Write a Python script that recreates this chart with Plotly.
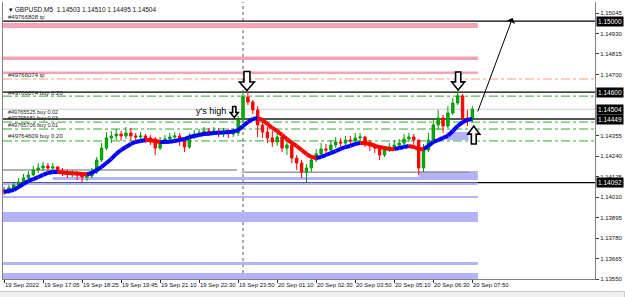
import plotly.graph_objects as go

# ---------------- data ----------------
bar_idx = [2 * j for j in range(97)]  # position in 5-minute bars from 19 Sep 15:45

opens = [1.14050, 1.14039, 1.14062, 1.14078, 1.14095, 1.14118, 1.14135, 1.14163, 1.14174, 1.14185,
         1.14174, 1.14180, 1.14157, 1.14151, 1.14140, 1.14146, 1.14135, 1.14123, 1.14129, 1.14151,
         1.14219, 1.14286, 1.14343, 1.14354, 1.14365, 1.14354, 1.14371, 1.14354, 1.14348, 1.14354,
         1.14343, 1.14337, 1.14286, 1.14320, 1.14337, 1.14348, 1.14354, 1.14331, 1.14292, 1.14348,
         1.14365, 1.14371, 1.14382, 1.14376, 1.14382, 1.14371, 1.14376, 1.14365, 1.14371, 1.14444,
         1.14573, 1.14545, 1.14500, 1.14416, 1.14376, 1.14343, 1.14320, 1.14348, 1.14286, 1.14303,
         1.14230, 1.14202, 1.14151, 1.14174, 1.14219, 1.14253, 1.14281, 1.14275, 1.14303, 1.14320,
         1.14314, 1.14331, 1.14326, 1.14343, 1.14348, 1.14320, 1.14298, 1.14286, 1.14247, 1.14275,
         1.14292, 1.14303, 1.14314, 1.14337, 1.14348, 1.14331, 1.14174, 1.14275, 1.14331, 1.14416,
         1.14455, 1.14410, 1.14483, 1.14539, 1.14579, 1.14455, 1.14449]
highs = [1.14067, 1.14078, 1.14095, 1.14118, 1.14140, 1.14157, 1.14185, 1.14202, 1.14208, 1.14202,
         1.14202, 1.14185, 1.14174, 1.14163, 1.14163, 1.14157, 1.14146, 1.14151, 1.14174, 1.14236,
         1.14314, 1.14376, 1.14382, 1.14393, 1.14382, 1.14404, 1.14399, 1.14371, 1.14376, 1.14365,
         1.14359, 1.14348, 1.14348, 1.14359, 1.14371, 1.14376, 1.14371, 1.14343, 1.14371, 1.14387,
         1.14393, 1.14404, 1.14399, 1.14404, 1.14399, 1.14399, 1.14393, 1.14399, 1.14466, 1.14601,
         1.14601, 1.14556, 1.14522, 1.14432, 1.14404, 1.14382, 1.14376, 1.14359, 1.14331, 1.14314,
         1.14247, 1.14219, 1.14196, 1.14241, 1.14281, 1.14314, 1.14309, 1.14331, 1.14348, 1.14343,
         1.14354, 1.14354, 1.14371, 1.14371, 1.14354, 1.14331, 1.14314, 1.14298, 1.14298, 1.14314,
         1.14331, 1.14337, 1.14365, 1.14371, 1.14365, 1.14331, 1.14309, 1.14371, 1.14455, 1.14500,
         1.14472, 1.14522, 1.14567, 1.14607, 1.14590, 1.14500, 1.14522]
lows = [1.14022, 1.14028, 1.14050, 1.14067, 1.14084, 1.14107, 1.14129, 1.14146, 1.14157, 1.14151,
        1.14151, 1.14140, 1.14129, 1.14118, 1.14123, 1.14107, 1.14095, 1.14101, 1.14118, 1.14140,
        1.14208, 1.14275, 1.14314, 1.14331, 1.14326, 1.14337, 1.14326, 1.14320, 1.14326, 1.14314,
        1.14303, 1.14247, 1.14275, 1.14309, 1.14314, 1.14326, 1.14298, 1.14264, 1.14281, 1.14337,
        1.14348, 1.14359, 1.14354, 1.14359, 1.14348, 1.14348, 1.14343, 1.14348, 1.14354, 1.14444,
        1.14528, 1.14477, 1.14348, 1.14343, 1.14314, 1.14292, 1.14298, 1.14264, 1.14247, 1.14202,
        1.14163, 1.14118, 1.14095, 1.14151, 1.14208, 1.14241, 1.14247, 1.14264, 1.14286, 1.14286,
        1.14298, 1.14298, 1.14309, 1.14320, 1.14292, 1.14269, 1.14258, 1.14219, 1.14236, 1.14264,
        1.14275, 1.14286, 1.14303, 1.14320, 1.14286, 1.14135, 1.14151, 1.14264, 1.14320, 1.14387,
        1.14371, 1.14399, 1.14472, 1.14528, 1.14416, 1.14410, 1.14432]
closes = [1.14039, 1.14062, 1.14078, 1.14095, 1.14118, 1.14135, 1.14163, 1.14174, 1.14185, 1.14174,
          1.14180, 1.14157, 1.14151, 1.14140, 1.14146, 1.14135, 1.14123, 1.14129, 1.14151, 1.14219,
          1.14286, 1.14343, 1.14354, 1.14365, 1.14354, 1.14371, 1.14354, 1.14348, 1.14354, 1.14343,
          1.14337, 1.14286, 1.14320, 1.14337, 1.14348, 1.14354, 1.14331, 1.14292, 1.14348, 1.14365,
          1.14371, 1.14382, 1.14376, 1.14382, 1.14371, 1.14376, 1.14365, 1.14371, 1.14444, 1.14573,
          1.14545, 1.14500, 1.14416, 1.14376, 1.14343, 1.14320, 1.14348, 1.14286, 1.14303, 1.14230,
          1.14202, 1.14151, 1.14174, 1.14219, 1.14253, 1.14281, 1.14275, 1.14303, 1.14320, 1.14314,
          1.14331, 1.14326, 1.14343, 1.14348, 1.14320, 1.14298, 1.14286, 1.14247, 1.14275, 1.14292,
          1.14303, 1.14314, 1.14337, 1.14348, 1.14331, 1.14174, 1.14275, 1.14331, 1.14416, 1.14455,
          1.14410, 1.14483, 1.14539, 1.14579, 1.14455, 1.14449, 1.14504]
ma = [1.14039, 1.14045, 1.14050, 1.14067, 1.14084, 1.14101, 1.14112, 1.14123, 1.14135, 1.14146,
      1.14151, 1.14151, 1.14148, 1.14146, 1.14144, 1.14143, 1.14140, 1.14139, 1.14146, 1.14163,
      1.14180, 1.14202, 1.14225, 1.14253, 1.14275, 1.14292, 1.14309, 1.14320, 1.14326, 1.14331,
      1.14330, 1.14326, 1.14320, 1.14320, 1.14322, 1.14326, 1.14331, 1.14337, 1.14348, 1.14354,
      1.14359, 1.14365, 1.14366, 1.14371, 1.14372, 1.14373, 1.14376, 1.14378, 1.14387, 1.14410,
      1.14432, 1.14449, 1.14455, 1.14444, 1.14421, 1.14399, 1.14382, 1.14359, 1.14337, 1.14314,
      1.14298, 1.14275, 1.14253, 1.14236, 1.14230, 1.14236, 1.14247, 1.14258, 1.14269, 1.14281,
      1.14292, 1.14298, 1.14309, 1.14314, 1.14313, 1.14309, 1.14298, 1.14292, 1.14286, 1.14281,
      1.14280, 1.14286, 1.14292, 1.14298, 1.14292, 1.14281, 1.14280, 1.14298, 1.14320, 1.14331,
      1.14343, 1.14354, 1.14382, 1.14410, 1.14432, 1.14444, 1.14449]

x_tick_idx = [0, 16, 32, 48, 64, 80, 96, 112, 128, 144, 160, 176, 192]
x_tick_labels = ["19 Sep 2022", "19 Sep 17:05", "19 Sep 18:25", "19 Sep 19:45", "19 Sep 21:10",
                 "19 Sep 22:30", "19 Sep 23:50", "20 Sep 01:10", "20 Sep 02:30", "20 Sep 03:50",
                 "20 Sep 05:10", "20 Sep 06:30", "20 Sep 07:50"]
y_ticks = [1.15045, 1.14930, 1.14815, 1.14700, 1.14355, 1.14240, 1.14125, 1.14010,
           1.13895, 1.13780, 1.13665, 1.13550]
boxed_prices = [1.15000, 1.14600, 1.14504, 1.14449, 1.14092]

pink_bands = [(1.14961, 1.14989), (1.14781, 1.14800), (1.14702, 1.14716)]
blue_bands = [(1.14078, 1.14093, -1), (1.14005, 1.14017, -1), (1.13870, 1.13927, -1),
              (1.13629, 1.13646, -1), (1.13550, 1.13584, -1), (1.14107, 1.14123, 20),
              (1.14123, 1.14157, 170)]
blue_box = (1.14331, 1.14376, 181.5, 190.5)
band_end = 194.3
black_lines = [1.15000, 1.14600, 1.14092]
tp_line = 1.14674
green_lines = [1.14578, 1.14432, 1.14393, 1.14326]
bid_line = 1.14504
dark_line = 1.14449
gray_segments = [(1.14163, -1, 95.5), (1.14150, 97.5, 191)]
day_sep = 98

# order labels: (text, price of label centre, font size)
order_labels = [("#49766808 tp", 1.15023, 6), ("#49766074 tp", 1.14697, 6),
                ("#49766074 buy 0.20", 1.14595, 6), ("#49765525 buy 0.02", 1.14491, 5.5),
                ("#49765681 buy 0.03", 1.14457, 5.5), ("#49765706 buy 0.01", 1.14416, 5.5),
                ("#49764609 buy 0.20", 1.14354, 6)]
title_text = "\u25be GBPUSD,M5  1.14503 1.14510 1.14495 1.14504"

# hollow marker arrows: (bar index, price, width px, height px, direction)
marker_arrows = [(99.6, 1.14663, 15, 19, "down"), (186.2, 1.14663, 13, 18, "down"),
                 (94.4, 1.14489, 8, 11, "down"), (192.6, 1.14359, 12, 18, "up")]

# ---------------- figure ----------------
fig = go.Figure()

fig.add_trace(go.Candlestick(
    x=bar_idx, open=opens, high=highs, low=lows, close=closes,
    increasing=dict(line=dict(color="#009a00", width=1), fillcolor="#00b000"),
    decreasing=dict(line=dict(color="#ff0000", width=1), fillcolor="#ff0000"),
    whiskerwidth=0, showlegend=False, hoverinfo="skip"))

bx, by, rx, ry = [], [], [], []
for i in range(len(ma) - 1):
    if ma[i + 1] >= ma[i]:
        bx += [bar_idx[i], bar_idx[i + 1], None]; by += [ma[i], ma[i + 1], None]
    else:
        rx += [bar_idx[i], bar_idx[i + 1], None]; ry += [ma[i], ma[i + 1], None]
fig.add_trace(go.Scatter(x=bx, y=by, mode="lines", line=dict(color="#0000ff", width=4),
                         showlegend=False, hoverinfo="skip"))
fig.add_trace(go.Scatter(x=rx, y=ry, mode="lines", line=dict(color="#ff0000", width=4),
                         showlegend=False, hoverinfo="skip"))

shapes = []
for lo, hi in pink_bands:
    shapes.append(dict(type="rect", xref="x", yref="y", x0=-1, x1=band_end, y0=lo, y1=hi,
                       fillcolor="#f5a3b3", line=dict(width=0), layer="below"))
for lo, hi, start in blue_bands:
    shapes.append(dict(type="rect", xref="x", yref="y", x0=start, x1=band_end, y0=lo, y1=hi,
                       fillcolor="#b3b3f7", line=dict(width=0), layer="below"))
shapes.append(dict(type="rect", xref="x", yref="y", x0=blue_box[2], x1=blue_box[3],
                   y0=blue_box[0], y1=blue_box[1], fillcolor="#b3b3f7",
                   line=dict(width=0), layer="below"))
for p in black_lines:
    shapes.append(dict(type="line", xref="paper", yref="y", x0=0, x1=1, y0=p, y1=p,
                       line=dict(color="#000000", width=1.3), layer="below"))
shapes.append(dict(type="line", xref="paper", yref="y", x0=0, x1=1, y0=tp_line, y1=tp_line,
                   line=dict(color="#f7a080", width=1, dash="dashdot"), layer="below"))
for p in green_lines:
    shapes.append(dict(type="line", xref="paper", yref="y", x0=0, x1=1, y0=p, y1=p,
                       line=dict(color="#33a833", width=1, dash="dashdot"), layer="below"))
shapes.append(dict(type="line", xref="paper", yref="y", x0=0, x1=1, y0=bid_line, y1=bid_line,
                   line=dict(color="#d0d0d0", width=1), layer="below"))
shapes.append(dict(type="line", xref="paper", yref="y", x0=0, x1=1, y0=dark_line, y1=dark_line,
                   line=dict(color="#555555", width=2), layer="below"))
for p, a, b in gray_segments:
    shapes.append(dict(type="line", xref="x", yref="y", x0=a, x1=b, y0=p, y1=p,
                       line=dict(color="#999999", width=1.5), layer="below"))
shapes.append(dict(type="line", xref="x", yref="paper", x0=day_sep, x1=day_sep, y0=0, y1=1,
                   line=dict(color="#555555", width=1, dash="dot"), layer="below"))
shapes.append(dict(type="rect", xref="paper", yref="paper", x0=-0.01, x1=1.05, y0=-0.068,
                   y1=-0.045, fillcolor="#f0f0f0", line=dict(color="#c8c8c8", width=1)))


def arrow_path(w, h, direction):
    hw, sw = w / 2.0, w * 0.2
    s = 1 if direction == "up" else -1  # tip side
    tip, base, neck = s * h / 2.0, -s * h / 2.0, s * (h / 2.0 - h * 0.45)
    pts = [(-sw, base), (sw, base), (sw, neck), (hw, neck), (0, tip), (-hw, neck), (-sw, neck)]
    return "M " + " L ".join(f"{x:.2f},{y:.2f}" for x, y in pts) + " Z"


for xi, pr, w, h, d in marker_arrows:
    shapes.append(dict(type="path", xref="x", yref="y", xsizemode="pixel", ysizemode="pixel",
                       xanchor=xi, yanchor=pr, path=arrow_path(w, h, d),
                       fillcolor="white", line=dict(color="black", width=1.6)))

ann = []
ann.append(dict(x=0.006, xref="paper", y=0.972, yref="paper", text=title_text, showarrow=False,
                xanchor="left", yanchor="middle", font=dict(family="Liberation Sans", size=6.5, color="#111")))
for t, p, fs in order_labels:
    ann.append(dict(x=0.007, xref="paper", y=p, yref="y", text=t, showarrow=False,
                    xanchor="left", yanchor="middle", borderpad=0,
                    font=dict(family="Liberation Sans", size=fs, color="#222")))
for p in boxed_prices:
    ann.append(dict(x=1, xref="paper", y=p, yref="y", text=f"{p:.5f}", showarrow=False,
                    xanchor="left", yanchor="middle", bgcolor="#000000", borderpad=1, xshift=1,
                    font=dict(family="Liberation Sans", size=6.5, color="#ffffff")))
for v, t in zip(x_tick_idx, x_tick_labels):
    ann.append(dict(x=v, xref="x", y=0, yref="paper", text=t, showarrow=False,
                    xanchor="left", yanchor="top", yshift=-1, xshift=-1,
                    font=dict(family="Liberation Sans", size=6, color="#111")))
ann.append(dict(x=92, y=1.14494, xref="x", yref="y", text="y's high", showarrow=False,
                xanchor="right", font=dict(family="Liberation Sans", size=9, color="#000")))
ann.append(dict(x=208.5, y=1.15017, xref="x", yref="y", ax=194, ay=1.14483, axref="x", ayref="y",
                text="", showarrow=True, arrowhead=1, arrowsize=1.5, arrowwidth=1, arrowcolor="#000"))

fig.update_layout(
    width=625, height=297, margin=dict(l=2, r=26, t=2, b=18),
    paper_bgcolor="white", plot_bgcolor="white", shapes=shapes, annotations=ann,
    xaxis=dict(range=[-0.41, 242.3], showgrid=False, zeroline=False, rangeslider=dict(visible=False),
               showline=True, linecolor="#808080", linewidth=1, tickvals=x_tick_idx,
               ticks="outside", ticklen=3, tickcolor="#333", showticklabels=False),
    yaxis=dict(range=[1.13550, 1.15107], side="right", showgrid=False, zeroline=False,
               showline=True, mirror=True, linecolor="#808080", linewidth=1,
               tickvals=y_ticks, ticktext=[f"{v:.5f}" for v in y_ticks],
               ticks="outside", ticklen=3, tickcolor="#333",
               tickfont=dict(family="Liberation Sans", size=6, color="#111")),
)

fig.write_html("out.html")
